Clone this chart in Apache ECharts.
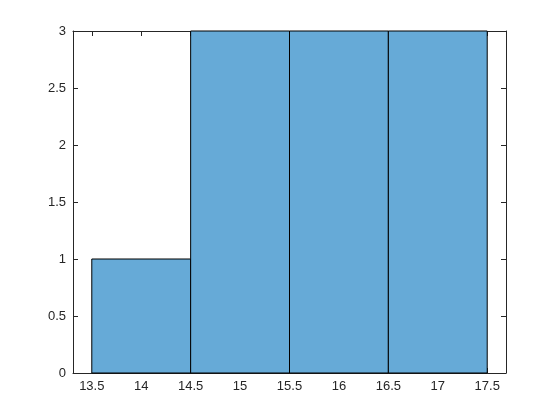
<!DOCTYPE html>
<html><head><meta charset="utf-8">
<script src="https://cdn.jsdelivr.net/npm/echarts@6/dist/echarts.min.js"></script>
<style>html,body{margin:0;padding:0;background:#fff}#c{width:560px;height:420px}</style>
</head><body><div id="c"></div>
<script>
const binEdges = [13.5, 14.5, 15.5, 16.5, 17.5];
const counts = [1, 3, 3, 3];
const xTicks = [13.5, 14, 14.5, 15, 15.5, 16, 16.5, 17, 17.5];
const yTicks = [0, 0.5, 1, 1.5, 2, 2.5, 3];

const barData = counts.map((c, i) => [binEdges[i], binEdges[i + 1], c]);
const axisCol = '#262626';
const font = {fontFamily: 'Liberation Sans, Arial, sans-serif', fontSize: 13, color: axisCol};

function xAxisDef(pos, showLabel) {
  return {
    type: 'value', position: pos, min: 13.31, max: 17.69,
    axisLine: {show: true, onZero: false, lineStyle: {color: axisCol, width: 1}},
    axisTick: {show: true, inside: true, length: 5, customValues: xTicks, lineStyle: {color: axisCol}},
    axisLabel: Object.assign({show: showLabel, customValues: xTicks, margin: 7,
      formatter: v => String(v)}, font),
    splitLine: {show: false}
  };
}
function yAxisDef(pos, showLabel) {
  return {
    type: 'value', position: pos, min: 0, max: 3, interval: 0.5,
    axisLine: {show: true, onZero: false, lineStyle: {color: axisCol, width: 1}},
    axisTick: {show: true, inside: true, length: 5, customValues: yTicks, lineStyle: {color: axisCol}},
    axisLabel: Object.assign({show: showLabel, customValues: yTicks, margin: 7, formatter: v => String(v)}, font),
    splitLine: {show: false}
  };
}

const chart = echarts.init(document.getElementById('c'), null, {renderer: 'canvas'});
chart.setOption({
  animation: false,
  backgroundColor: '#ffffff',
  grid: {left: 73, top: 31, width: 433, height: 342, containLabel: false},
  xAxis: [xAxisDef('bottom', true), xAxisDef('top', false)],
  yAxis: [yAxisDef('left', true), yAxisDef('right', false)],
  series: [{
    type: 'custom',
    xAxisIndex: 0, yAxisIndex: 0,
    data: barData,
    encode: {x: [0, 1], y: 2},
    renderItem: function (params, api) {
      const p0 = api.coord([api.value(0), api.value(2)]);
      const p1 = api.coord([api.value(1), 0]);
      return {
        type: 'rect',
        shape: {x: p0[0], y: p0[1], width: p1[0] - p0[0], height: p1[1] - p0[1]},
        style: {fill: 'rgb(102,170,215)', stroke: '#000', lineWidth: 1}
      };
    }
  }]
});
</script></body></html>
